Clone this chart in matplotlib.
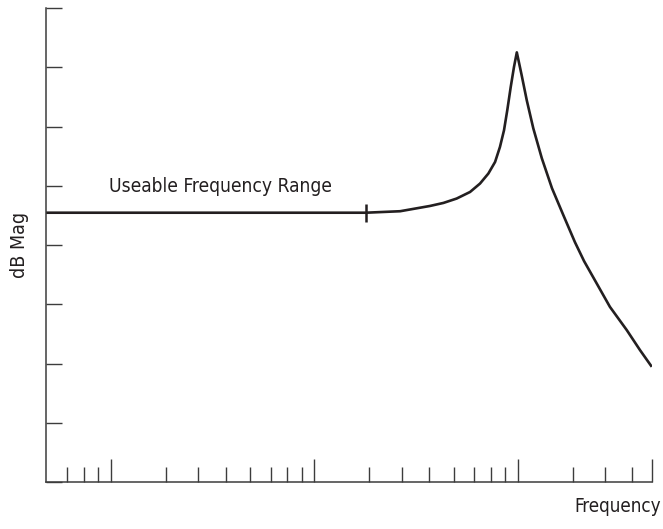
import matplotlib
matplotlib.use("Agg")
import matplotlib.pyplot as plt
from matplotlib import font_manager

# frequency in decades (log10 units), magnitude in grid units
freq = [0.68, 2.254, 2.422, 2.569, 2.635, 2.700, 2.766, 2.815, 2.856, 2.889,
        2.913, 2.933, 2.949, 2.966, 2.982, 2.996, 3.020, 3.045, 3.077, 3.119,
        3.169, 3.225, 3.282, 3.327, 3.389, 3.454, 3.537, 3.602, 3.660]
mag = [4.545, 4.545, 4.570, 4.659, 4.710, 4.784, 4.895, 5.037, 5.206, 5.401,
       5.654, 5.936, 6.273, 6.666, 7.003, 7.251, 6.863, 6.442, 5.970, 5.464,
       4.958, 4.503, 4.047, 3.727, 3.351, 2.956, 2.563, 2.226, 1.944]

range_end = 2.254        # end of useable range marker
decades = [1, 2, 3]
minor_frac = [0.27, 0.43, 0.565, 0.685, 0.785, 0.867, 0.937]
y_ticks = list(range(0, 9))

ink = "#231f20"
axc = "#3c3c3c"

# look for a narrow / condensed face, otherwise fall back to DejaVu Sans
fp = font_manager.FontProperties(family="DejaVu Sans")
for f in font_manager.fontManager.ttflist:
    nm = f.name + " " + str(f.fname)
    narrow = ("Narrow" in nm or "Condensed" in nm
              or f.stretch in ("condensed", "semi-condensed"))
    if narrow and f.style == "normal" and f.weight in (400, "normal", "regular") \
            and "Mono" not in nm and "Bold" not in f.fname:
        fp = font_manager.FontProperties(fname=f.fname)
        break

fig = plt.figure(figsize=(6.63, 5.29), dpi=100)
ax = fig.add_axes([46/663, 47/529, (652-46)/663, (482-8)/529])

ax.plot(freq, mag, color=ink, lw=1.9, solid_joinstyle="round",
        solid_capstyle="butt")
ax.plot([range_end], [mag[0]], marker="|", ms=13, mew=1.8, color=ink)

ax.set_xlim(0.68, 3.661)
ax.set_ylim(0, 8)

minors = [d - 1 + f for d in decades + [4] for f in minor_frac]
minors = [m for m in minors if 0.72 < m < 3.65]
ax.set_xticks(decades + [3.661])
ax.set_xticks(minors, minor=True)
ax.set_yticks(y_ticks)
ax.tick_params(axis="x", which="major", direction="in", length=16.5, width=1.0,
               color=axc, labelbottom=False)
ax.tick_params(axis="x", which="minor", direction="in", length=10.8, width=1.0,
               color=axc)
ax.tick_params(axis="y", direction="in", length=11.5, width=1.0, color=axc,
               labelleft=False)

for s in ["top", "right"]:
    ax.spines[s].set_visible(False)
for s in ["left", "bottom"]:
    ax.spines[s].set_color(axc)
    ax.spines[s].set_linewidth(1.1)

ax.text(0.99, 4.99, "Useable Frequency Range", ha="left", va="center",
        fontproperties=fp, fontsize=13.8, color=ink)
ax.set_ylabel("dB Mag", fontproperties=fp, fontsize=14, color=ink, labelpad=12)
fig.text(661/663, (529-506)/529, "Frequency", ha="right", va="center",
         fontproperties=fp, fontsize=13.5, color=ink)

fig.savefig("out.png", dpi=100)
